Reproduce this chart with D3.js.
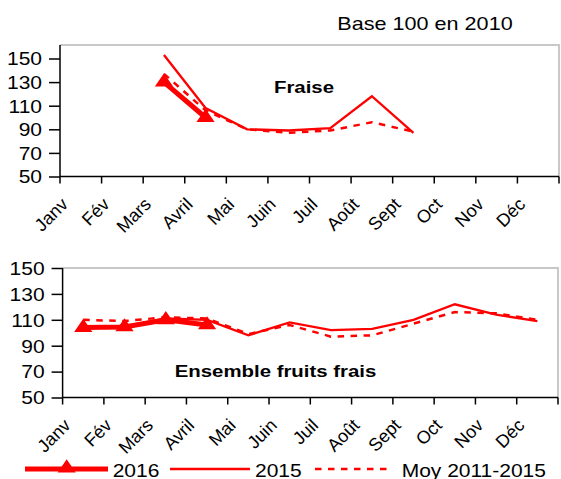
<!DOCTYPE html>
<html>
<head>
<meta charset="utf-8">
<script src="https://cdn.jsdelivr.net/npm/d3@7"></script>
<style>
  body { margin: 0; background: #fff; }
  svg { display: block; font-family: "Liberation Sans", Arial, sans-serif; }
</style>
</head>
<body>
<svg id="chart" width="561" height="479"></svg>
<script>
const months = ["Janv", "Fév", "Mars", "Avril", "Mai", "Juin", "Juil", "Août", "Sept", "Oct", "Nov", "Déc"];
const yTicks = [50, 70, 90, 110, 130, 150];

// Fraise (null = no data)
const fraise2016 = [null, null, 130, 100, null, null, null, null, null, null, null, null];
const fraise2015 = [null, null, 153, 108, 90, 89, 91, 118, 87, null, null, null];
const fraiseMoy = [null, null, 137, 106, 90, 87, 89, 96, 88, null, null, null];

// Ensemble fruits frais
const fruits2016 = [104, 104.5, 110, 106, null, null, null, null, null, null, null, null];
const fruits2015 = [104, 105, 111, 110, 98, 108, 102, 103, 110, 122, 114, 109];
const fruitsMoy = [110, 109, 112, 111, 99, 106, 97, 98, 107, 116, 115, 110];

const RED = "#ff0000";
const SX = 1.2; // glyphs in the original are wider than Arial
const svg = d3.select("#chart");

function label(parent, x, y, txt, size, opts = {}) {
  const sx = opts.sx || SX;
  return parent.append("text")
    .attr("transform", `translate(${x},${y}) scale(${sx},1)` + (opts.rotate ? ` rotate(${opts.rotate})` : ""))
    .attr("text-anchor", opts.anchor || "start")
    .attr("font-size", size)
    .attr("font-weight", opts.bold ? "bold" : null)
    .text(txt);
}

label(svg, 425, 30, "Base 100 en 2010", 18, { anchor: "middle" });

const tri = d3.symbol().type(d3.symbolTriangle).size(100);

function drawPanel(cfg) {
  const { left, right, top, yTop, yBottom, title, titleX, titleY, s2016, s2015, sMoy } = cfg;
  const x = d3.scaleBand().domain(months).range([left, right]);
  const y = d3.scaleLinear().domain([50, 150]).range([yBottom, yTop]);
  const g = svg.append("g");

  // frame (top + right, gray)
  g.append("path")
    .attr("d", `M${left},${top}H${right}V${yBottom}`)
    .attr("fill", "none").attr("stroke", "#c8c8c8").attr("stroke-width", 2);

  // y axis
  const ya = g.append("g")
    .attr("transform", `translate(${left},0)`)
    .call(d3.axisLeft(y).tickValues(yTicks).tickSize(11).tickPadding(4));
  ya.select(".domain").attr("d", `M0,${top}V${yBottom}`).attr("stroke", "#000").attr("stroke-width", 1.5);
  ya.selectAll("line").attr("stroke-width", 1.5);
  ya.selectAll("text")
    .attr("font-size", 17.5).attr("fill", "#000").attr("dy", "0.36em")
    .attr("transform", `scale(${SX},1)`);

  // x axis: ticks at band edges
  const edges = months.map(m => x(m)).concat([right]);
  g.append("line")
    .attr("x1", left).attr("x2", right).attr("y1", yBottom).attr("y2", yBottom)
    .attr("stroke", "#000").attr("stroke-width", 1.5);
  g.selectAll(".xt").data(edges).join("line")
    .attr("x1", d => d).attr("x2", d => d)
    .attr("y1", yBottom).attr("y2", yBottom + 7)
    .attr("stroke", "#000").attr("stroke-width", 1.5);
  months.forEach(m => label(g, x(m) + 9, yBottom + 29, m, 18, { anchor: "end", rotate: -45, sx: 1.0 }));

  label(g, titleX, titleY, title, 17, { anchor: "middle", bold: true });

  const cx = i => x(months[i]) + x.bandwidth() / 2;
  const line = d3.line()
    .defined(d => d != null)
    .x((d, i) => cx(i))
    .y(d => y(d));

  g.append("path").datum(sMoy)
    .attr("d", line).attr("fill", "none")
    .attr("stroke", RED).attr("stroke-width", 2.5).attr("stroke-dasharray", "6.5,6.5");
  g.append("path").datum(s2015)
    .attr("d", line).attr("fill", "none")
    .attr("stroke", RED).attr("stroke-width", 2.3);
  g.append("path").datum(s2016)
    .attr("d", line).attr("fill", "none")
    .attr("stroke", RED).attr("stroke-width", 5);

  g.selectAll(".mk").data(s2016.map((v, i) => ({ v, i })).filter(d => d.v != null)).join("path")
    .attr("d", tri)
    .attr("transform", d => `translate(${cx(d.i)},${y(d.v)}) scale(${SX},1)`)
    .attr("fill", RED);
}

drawPanel({
  left: 60, right: 559, top: 45, yTop: 58.5, yBottom: 176.5,
  title: "Fraise", titleX: 304, titleY: 93,
  s2016: fraise2016, s2015: fraise2015, sMoy: fraiseMoy
});

drawPanel({
  left: 62.6, right: 558, top: 268, yTop: 268, yBottom: 397.5,
  title: "Ensemble fruits frais", titleX: 275.5, titleY: 376.5,
  s2016: fruits2016, s2015: fruits2015, sMoy: fruitsMoy
});

// legend
const ly = 469;
const lg = svg.append("g");
lg.append("line").attr("x1", 25).attr("x2", 108).attr("y1", ly).attr("y2", ly)
  .attr("stroke", RED).attr("stroke-width", 5);
lg.append("path").attr("d", tri)
  .attr("transform", `translate(66.7,${ly - 1}) scale(${SX},1)`).attr("fill", RED);
label(lg, 112.7, 476.5, "2016", 17.5);
lg.append("line").attr("x1", 170).attr("x2", 250).attr("y1", ly).attr("y2", ly)
  .attr("stroke", RED).attr("stroke-width", 2.3);
label(lg, 255, 476.5, "2015", 17.5);
lg.append("line").attr("x1", 315).attr("x2", 393).attr("y1", ly).attr("y2", ly)
  .attr("stroke", RED).attr("stroke-width", 2.5).attr("stroke-dasharray", "6.5,6.5");
label(lg, 401.7, 476.5, "Moy 2011-2015", 17.5);
</script>
</body>
</html>
